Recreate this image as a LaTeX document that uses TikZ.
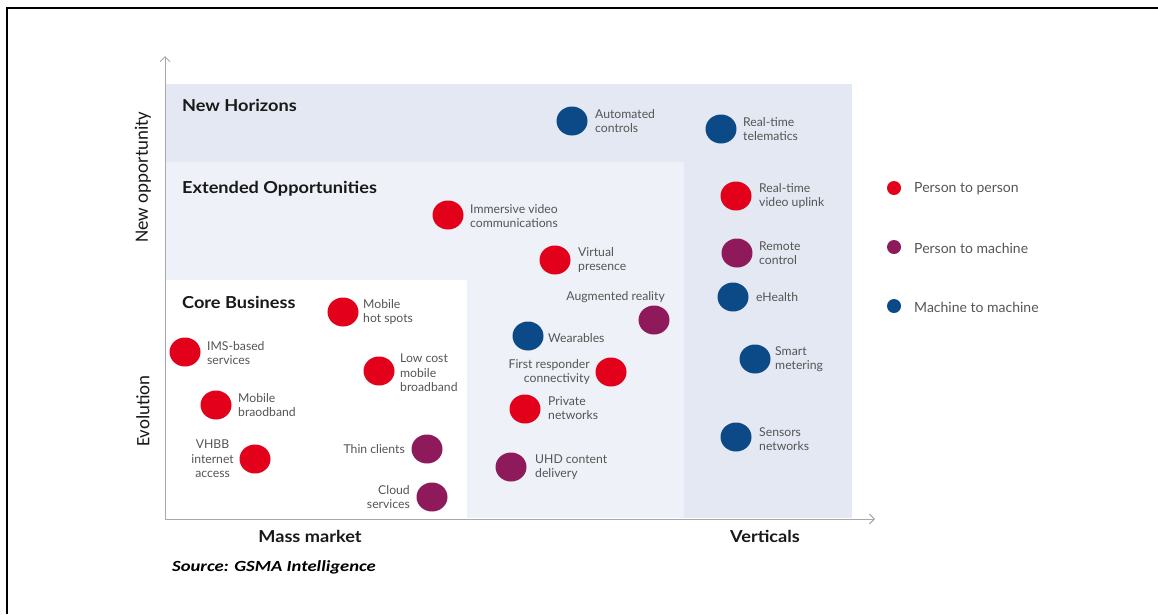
\documentclass[tikz,border=0pt]{standalone}
\usepackage{fontspec}
\usetikzlibrary{shapes.geometric,arrows.meta}
\newfontfamily\lbf{Lato}
\newfontfamily\lbw[FakeStretch=1.1]{Lato}
\newfontfamily\carl{Carlito}
\newfontfamily\carlw[FakeStretch=1.2]{Carlito}
\definecolor{bandA}{HTML}{E3E8F2}
\definecolor{bandB}{HTML}{EEF1F7}
\definecolor{pp}{HTML}{E2001A}
\definecolor{pm}{HTML}{8E1A5C}
\definecolor{mm}{HTML}{0B4A86}
\definecolor{lblgray}{HTML}{555555}
\definecolor{axisgray}{HTML}{A8A8A8}
\tikzset{
  dotbase/.style={ellipse, minimum width=31pt, minimum height=29pt, inner sep=0pt},
  ptp/.style={dotbase, fill=pp},
  ptm/.style={dotbase, fill=pm},
  mtm/.style={dotbase, fill=mm},
  legdot/.style={circle, minimum size=14pt, inner sep=0pt},
  lbl/.style={font=\lbf\fontsize{12.2}{14.5}\selectfont, text=lblgray, inner sep=0pt},
  lblL/.style={lbl, anchor=west, align=left},
  lblR/.style={lbl, anchor=east, align=right},
  leg/.style={font=\lbf\fontsize{14}{16}\selectfont, text=lblgray, inner sep=0pt, anchor=west},
  title/.style={font=\lbw\bfseries\fontsize{16.5}{18}\selectfont, text=black!90, anchor=west, inner sep=0pt},
  axlbl/.style={font=\carl\fontsize{18.9}{20}\selectfont, text=black!90, inner sep=0pt},
  axb/.style={font=\lbw\bfseries\fontsize{16.5}{18}\selectfont, text=black!90, inner sep=0pt},
  axis/.style={draw=axisgray, line width=1pt, -{Straight Barb[length=5pt,width=10pt]}},
}
\begin{document}
\begin{tikzpicture}[x=1pt,y=-1pt]
\useasboundingbox (0,0) rectangle (1158,614);
% frame
\draw[line width=2.5pt] (7,614) -- (7,8) -- (1158,8);
% regions
\fill[bandA] (166,84) rectangle (852,518);
\fill[bandB] (166,162) rectangle (684,518);
\fill[white] (166,280) rectangle (467,518);
% axes
\coordinate (org) at (165,519);
\coordinate (ytip) at (165,56);
\coordinate (xtip) at (875,519);
\draw[axis] (org) -- (ytip);
\draw[axis] (org) -- (xtip);
% titles
\node[title] (t1) at (182,105) {New Horizons};
\node[title] (t2) at (182,189) {Extended Opportunities};
\node[title] (t3) at (182,302) {Core Business};
% axis labels
\node[axlbl, rotate=90] (ay1) at (143,177) {New opportunity};
\node[axlbl, rotate=90] (ay2) at (143,411) {Evolution};
\node[axb] (ax1) at (310,536) {Mass market};
\node[axb] (ax2) at (765,536) {Verticals};
\node[font=\carlw\bfseries\itshape\fontsize{15.5}{18}\selectfont, anchor=west, inner sep=0pt] (src) at (172,567) {Source: GSMA Intelligence};
% items
\node[mtm] (d1) at (572,121) {};
\node[lblL] (l1) at (595,121) {Automated\\controls};
\node[mtm] (d2) at (721,129) {};
\node[lblL] (l2) at (743,129) {Real-time\\telematics};
\node[ptp] (d3) at (448,215) {};
\node[lblL] (l3) at (470,216) {Immersive video\\communications};
\node[ptp] (d4) at (555,260) {};
\node[lblL] (l4) at (578,260) {Virtual\\presence};
\node[ptp] (d5) at (736,196) {};
\node[lblL] (l5) at (759,196) {Real-time\\video uplink};
\node[ptm] (d6) at (737,253) {};
\node[lblL] (l6) at (759,253) {Remote\\control};
\node[mtm] (d7) at (733,297) {};
\node[lblL] (l7) at (756,297) {eHealth};
\node[ptm] (d8) at (654,320) {};
\node[lblR] (l8) at (665,297) {Augmented reality};
\node[mtm] (d9) at (528,336) {};
\node[lblL] (l9) at (548,338) {Wearables};
\node[ptp] (d10) at (611,372) {};
\node[lblR] (l10) at (590,372) {First responder\\connectivity};
\node[ptp] (d11) at (525,409) {};
\node[lblL] (l11) at (548,408) {Private\\networks};
\node[ptm] (d12) at (511,467) {};
\node[lblL] (l12) at (535,467) {UHD content\\delivery};
\node[mtm] (d13) at (755,359) {};
\node[lblL] (l13) at (775,359) {Smart\\metering};
\node[mtm] (d14) at (736,437) {};
\node[lblL] (l14) at (759,439) {Sensors\\networks};
\node[ptp] (d15) at (343,312) {};
\node[lblL] (l15) at (363,312) {Mobile\\hot spots};
\node[ptp] (d16) at (185,352) {};
\node[lblL] (l16) at (207,353) {IMS-based\\services};
\node[ptp] (d17) at (379,371) {};
\node[lblL] (l17) at (400,373) {Low cost\\mobile\\broadband};
\node[ptp] (d18) at (216,405) {};
\node[lblL] (l18) at (238,405) {Mobile\\braodband};
\node[ptp] (d19) at (255,459) {};
\node[lbl, anchor=east, align=center] (l19) at (234,459) {VHBB\\internet\\access};
\node[ptm] (d20) at (427,449) {};
\node[lblR] (l20) at (405,449) {Thin clients};
\node[ptm] (d21) at (432,497) {};
\node[lblR] (l21) at (410,497) {Cloud\\services};
% legend
\node[legdot, fill=pp] (g1) at (894,188) {};
\node[leg] (gl1) at (914,189) {Person to person};
\node[legdot, fill=pm] (g2) at (894,247) {};
\node[leg] (gl2) at (914,248) {Person to machine};
\node[legdot, fill=mm] (g3) at (894,306) {};
\node[leg] (gl3) at (914,307) {Machine to machine};
\end{tikzpicture}
\end{document}
